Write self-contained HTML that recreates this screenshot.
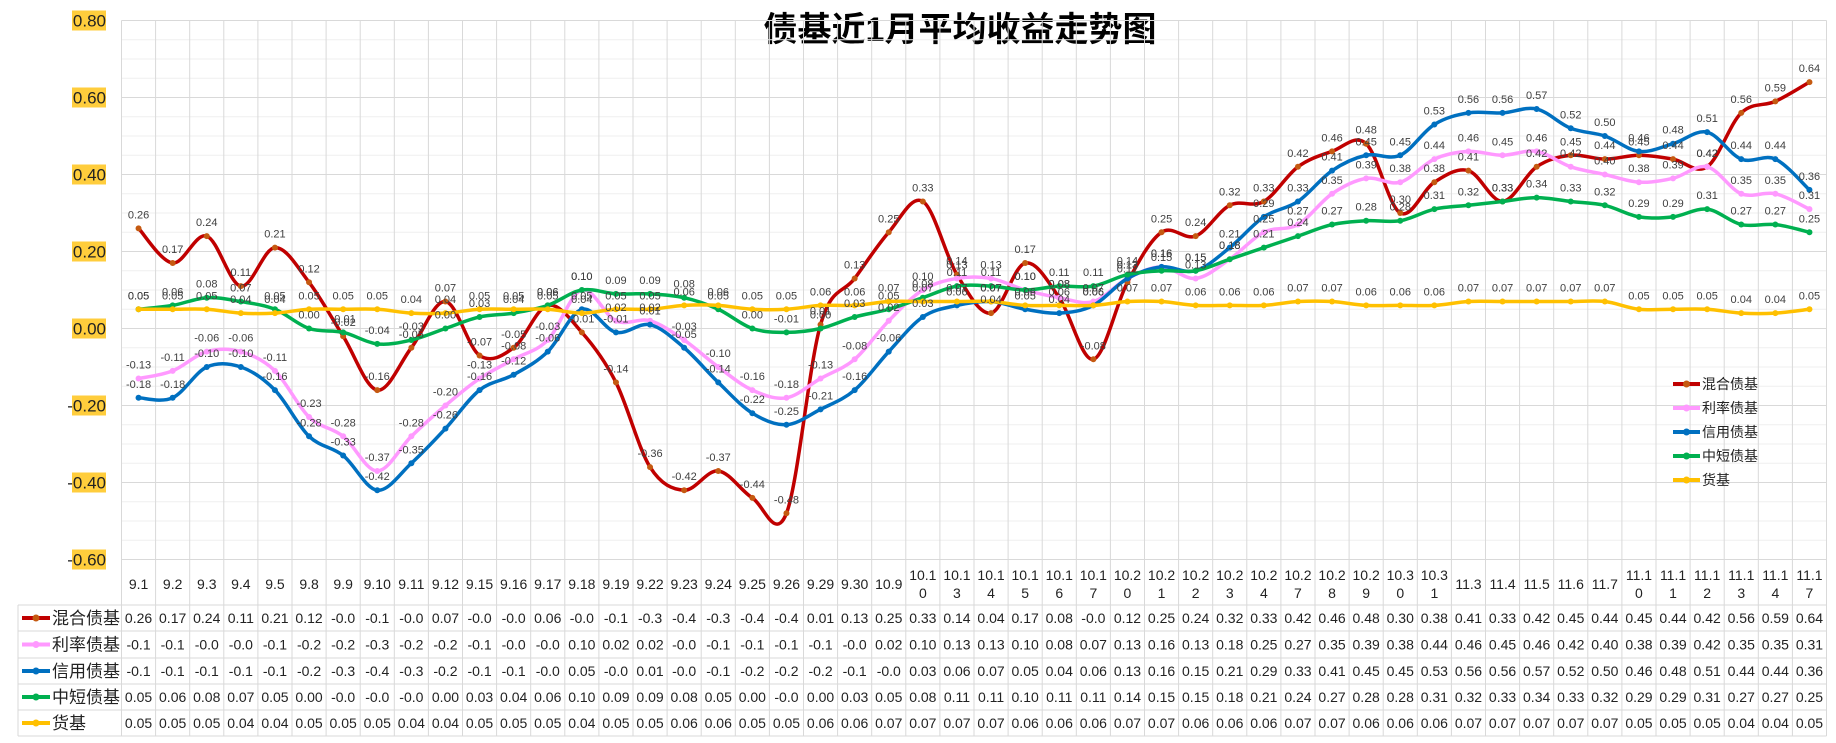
<!DOCTYPE html>
<html><head><meta charset="utf-8">
<style>
html,body{margin:0;padding:0;background:#fff;}
svg{display:block;font-family:"Liberation Sans","Noto Sans CJK SC",sans-serif;}
</style></head>
<body>
<svg id="chart" width="1836" height="743" viewBox="0 0 1836 743" xmlns="http://www.w3.org/2000/svg">
<text x="960" y="41" text-anchor="middle" font-size="34" font-weight="bold" fill="#000" font-family="Liberation Sans, Noto Sans CJK SC, sans-serif">债基近1月平均收益走势图</text>
<g id="grid"></g><g id="yaxis"></g><g id="table"></g><g id="series"></g><g id="labels"></g><g id="legend"></g>
</svg>
<script>
const categories=["9.1","9.2","9.3","9.4","9.5","9.8","9.9","9.10","9.11","9.12","9.15","9.16","9.17","9.18","9.19","9.22","9.23","9.24","9.25","9.26","9.29","9.30","10.9","10.10","10.13","10.14","10.15","10.16","10.17","10.20","10.21","10.22","10.23","10.24","10.27","10.28","10.29","10.30","10.31","11.3","11.4","11.5","11.6","11.7","11.10","11.11","11.12","11.13","11.14","11.17"];
const seriesNames=["混合债基","利率债基","信用债基","中短债基","货基"];
const mixed=[0.26,0.17,0.24,0.11,0.21,0.12,-0.02,-0.16,-0.05,0.07,-0.07,-0.05,0.06,-0.01,-0.14,-0.36,-0.42,-0.37,-0.44,-0.48,0.01,0.13,0.25,0.33,0.14,0.04,0.17,0.08,-0.08,0.12,0.25,0.24,0.32,0.33,0.42,0.46,0.48,0.30,0.38,0.41,0.33,0.42,0.45,0.44,0.45,0.44,0.42,0.56,0.59,0.64];
const rate=[-0.13,-0.11,-0.06,-0.06,-0.11,-0.23,-0.28,-0.37,-0.28,-0.20,-0.13,-0.08,-0.03,0.10,0.02,0.02,-0.03,-0.10,-0.16,-0.18,-0.13,-0.08,0.02,0.10,0.13,0.13,0.10,0.08,0.07,0.13,0.16,0.13,0.18,0.25,0.27,0.35,0.39,0.38,0.44,0.46,0.45,0.46,0.42,0.40,0.38,0.39,0.42,0.35,0.35,0.31];
const credit=[-0.18,-0.18,-0.10,-0.10,-0.16,-0.28,-0.33,-0.42,-0.35,-0.26,-0.16,-0.12,-0.06,0.05,-0.01,0.01,-0.05,-0.14,-0.22,-0.25,-0.21,-0.16,-0.06,0.03,0.06,0.07,0.05,0.04,0.06,0.13,0.16,0.15,0.21,0.29,0.33,0.41,0.45,0.45,0.53,0.56,0.56,0.57,0.52,0.50,0.46,0.48,0.51,0.44,0.44,0.36];
const shortTerm=[0.05,0.06,0.08,0.07,0.05,0.00,-0.01,-0.04,-0.03,0.00,0.03,0.04,0.06,0.10,0.09,0.09,0.08,0.05,0.00,-0.01,0.00,0.03,0.05,0.08,0.11,0.11,0.10,0.11,0.11,0.14,0.15,0.15,0.18,0.21,0.24,0.27,0.28,0.28,0.31,0.32,0.33,0.34,0.33,0.32,0.29,0.29,0.31,0.27,0.27,0.25];
const money=[0.05,0.05,0.05,0.04,0.04,0.05,0.05,0.05,0.04,0.04,0.05,0.05,0.05,0.04,0.05,0.05,0.06,0.06,0.05,0.05,0.06,0.06,0.07,0.07,0.07,0.07,0.06,0.06,0.06,0.07,0.07,0.06,0.06,0.06,0.07,0.07,0.06,0.06,0.06,0.07,0.07,0.07,0.07,0.07,0.05,0.05,0.05,0.04,0.04,0.05];
const yTicks=[0.8,0.6,0.4,0.2,0,-0.2,-0.4,-0.6];

const NS="http://www.w3.org/2000/svg";
const allSeries=[mixed,rate,credit,shortTerm,money];
const colors=["#c00000","#ff99ff","#0070c0","#00b050","#ffc000"];
const mcolors=["#c55a11","#ff99ff","#0070c0","#00b050","#ffc000"];
const L=121.5,W=34.1,top0=20.5,pxPer=385;
function x(i){return L+W*(i+0.5);}
function y(v){return top0+(0.8-v)*pxPer;}
const R=L+W*categories.length;
function el(tag,attrs,parent){const e=document.createElementNS(NS,tag);for(const k in attrs)e.setAttribute(k,attrs[k]);parent.appendChild(e);return e;}
const grid=document.getElementById('grid');
for(let k=0;k<=28;k++){const v=0.8-k*0.05;const major=k%4===0;
 const ln=el('line',{x1:L,x2:R,y1:y(v),y2:y(v),stroke:major?'#d9d9d9':'#efefef','stroke-width':1},grid);
 
 }
for(let i=0;i<=categories.length;i++){const ln=el('line',{x1:L+W*i,x2:L+W*i,y1:top0,y2:736,stroke:'#d9d9d9','stroke-width':1},grid);
 
 }
const yaxis=document.getElementById('yaxis');
yTicks.forEach(v=>{const g=el('g',{},yaxis);
 
 
 el('rect',{x:72,y:y(v)-10,width:34,height:20,fill:'#ffcd3c'},g);
 const t=el('text',{x:106,y:y(v)+6,'text-anchor':'end','font-size':17,fill:'#222'},g);t.textContent=v.toFixed(2);});
// table
const tb=document.getElementById('table');
const rowLines=[605,631,658,684,710,736];
rowLines.forEach(yy=>{const ln=el('line',{x1:18,x2:R,y1:yy,y2:yy,stroke:'#d9d9d9'},tb);
 
 });
[18].forEach(xx=>{const ln=el('line',{x1:xx,x2:xx,y1:605,y2:736,stroke:'#d9d9d9'},tb);
 
 });
categories.forEach((c,i)=>{const t=el('text',{x:x(i),'text-anchor':'middle','font-size':14,fill:'#222'},tb);
 
 
 if(c.length>4){const a=el('tspan',{x:x(i),y:580},t);a.textContent=c.slice(0,4);const b=el('tspan',{x:x(i),y:598},t);b.textContent=c.slice(4);}
 else{t.setAttribute('y',589);t.textContent=c;}});
function fmt(v){if(Math.abs(v)<0.1&&v<0)return '-0.0';if(v<=-0.1)return (Math.trunc(v*10)/10).toFixed(1);return v.toFixed(2);}
allSeries.forEach((s,r)=>{const cy=(rowLines[r]+rowLines[r+1])/2;
 const g=el('g',{},tb);
 
 
 el('line',{x1:22,x2:50,y1:cy,y2:cy,stroke:colors[r],'stroke-width':4},g);
 el('circle',{cx:36,cy:cy,r:3.5,fill:mcolors[r]},g);
 const n=el('text',{x:52,y:cy+6,'font-size':17,fill:'#222'},g);n.textContent=seriesNames[r];
 s.forEach((v,i)=>{const t=el('text',{x:x(i),y:cy+5,'text-anchor':'middle','font-size':14,fill:'#222'},g);t.textContent=fmt(v);});});
// series
const sg=document.getElementById('series'),lg=document.getElementById('labels');
function smooth(pts){let d='M'+pts[0][0]+','+pts[0][1];
 for(let i=0;i<pts.length-1;i++){const p0=pts[Math.max(0,i-1)],p1=pts[i],p2=pts[i+1],p3=pts[Math.min(pts.length-1,i+2)];
  const c1=[p1[0]+(p2[0]-p0[0])/6,p1[1]+(p2[1]-p0[1])/6],c2=[p2[0]-(p3[0]-p1[0])/6,p2[1]-(p3[1]-p1[1])/6];
  d+=' C'+c1.join(',')+' '+c2.join(',')+' '+p2.join(',');}return d;}
allSeries.forEach((s,r)=>{const g=el('g',{},sg);
 
 
 const pts=s.map((v,i)=>[x(i),y(v)]);
 el('path',{d:smooth(pts),fill:'none',stroke:colors[r],'stroke-width':3.5},g);
 pts.forEach(p=>{el('circle',{cx:p[0],cy:p[1],r:3,fill:mcolors[r]},g);});
 s.forEach((v,i)=>{const t=el('text',{x:x(i),y:y(v)-10,'text-anchor':'middle','font-size':11,fill:'#404040'},lg);t.textContent=v.toFixed(2);});});
// legend
const leg=document.getElementById('legend');
const ly=[384,408,432,456,480];
seriesNames.forEach((n,r)=>{const g=el('g',{},leg);
 
 
 el('line',{x1:1673,x2:1700,y1:ly[r],y2:ly[r],stroke:colors[r],'stroke-width':4},g);
 el('circle',{cx:1686.5,cy:ly[r],r:3.5,fill:mcolors[r]},g);
 const t=el('text',{x:1702,y:ly[r]+5,'font-size':14,fill:'#222'},g);t.textContent=n;});
</script>
</body></html>
